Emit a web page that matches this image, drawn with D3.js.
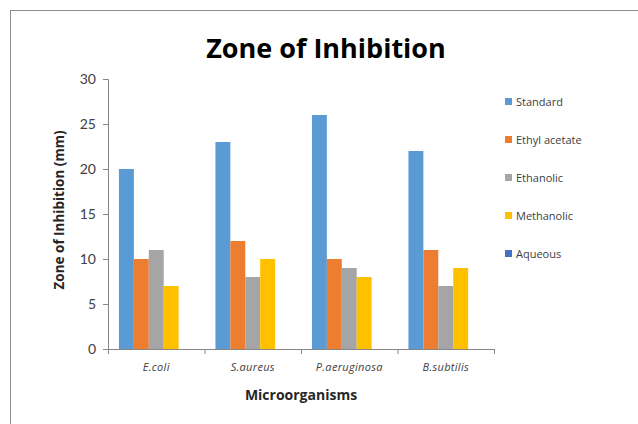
<!DOCTYPE html>
<html><head><meta charset="utf-8">
<script src="https://cdn.jsdelivr.net/npm/d3@7"></script>
<style>body{margin:0;background:#fff}svg{display:block;font-family:"Open Sans",sans-serif}</style>
</head><body>
<svg id="c" width="638" height="424"></svg>
<script>
const categories = ["E.coli","S.aureus","P.aeruginosa","B.subtilis"];
const seriesNames = ["Standard","Ethyl acetate","Ethanolic","Methanolic","Aqueous"];
const standard = [20,23,26,22];
const ethylAcetate = [10,12,10,11];
const ethanolic = [11,8,9,7];
const methanolic = [7,10,8,9];
const aqueous = [0,0,0,0];
const yTicks = [0,5,10,15,20,25,30];
const colors = ["#5B9BD5","#ED7D31","#A5A5A5","#FFC000","#4472C4"];
const seriesValues = [standard, ethylAcetate, ethanolic, methanolic, aqueous];

const svg = d3.select("#c");
svg.append("rect").attr("x",10.5).attr("y",10.5).attr("width",640).attr("height",430)
  .attr("fill","#fff").attr("stroke","#8c8c8c").attr("stroke-width",1);

const pLeft=108, pRight=494, pTop=79, pBottom=349;
const x = d3.scaleBand().domain(categories).range([pLeft,pRight]).paddingInner(0).paddingOuter(0);
const x1 = d3.scaleBand().domain(seriesNames).range([0,x.bandwidth()]).paddingInner(0).paddingOuter(0.733);
const y = d3.scaleLinear().domain([0,30]).range([pBottom,pTop]);

// bars
seriesNames.forEach((s,si)=>{
  svg.append("g").selectAll("rect").data(categories).join("rect")
    .attr("x",c=>x(c)+x1(s)).attr("width",x1.bandwidth())
    .attr("y",(c,i)=>y(seriesValues[si][i])).attr("height",(c,i)=>y(0)-y(seriesValues[si][i]))
    .attr("fill",colors[si]);
});

const axisColor="#868686";
// y axis
const ya = svg.append("g").attr("transform",`translate(${pLeft},0)`)
  .call(d3.axisLeft(y).tickValues(yTicks).tickSize(5).tickPadding(7));
ya.select(".domain").attr("stroke",axisColor);
ya.selectAll(".tick line").attr("stroke",axisColor);
ya.selectAll("text").style("font-size","14px").style("font-family","Lato,sans-serif").attr("fill","#404040");

// x axis
const xa = svg.append("g").attr("transform",`translate(0,${pBottom})`)
  .call(d3.axisBottom(x).tickSize(0).tickPadding(14));
xa.select(".domain").attr("stroke",axisColor).attr("d",`M${pLeft},0.5H${pRight}`);
xa.selectAll("text").style("font-size","11px").style("font-style","italic")
  .style("font-family","'Open Sans',sans-serif").style("letter-spacing","0.3px").attr("fill","#404040");
const bounds = categories.map(c=>x(c)).concat([pRight]);
xa.selectAll(".bnd").data(bounds).join("line").attr("class","bnd")
  .attr("x1",d=>d+0.5).attr("x2",d=>d+0.5).attr("y1",0).attr("y2",5).attr("stroke",axisColor);

// titles
svg.append("text").attr("x",326).attr("y",58).attr("text-anchor","middle")
  .style("font-family","'Open Sans',sans-serif").style("font-size","27px").style("font-weight","bold")
  .attr("fill","#000").text("Zone of Inhibition");
svg.append("text").attr("transform",`translate(64,210) rotate(-90)`)
  .attr("text-anchor","middle").style("font-size","13.5px").style("font-weight","bold").attr("fill","#262626")
  .text("Zone of Inhibition (mm)");
svg.append("text").attr("x",301).attr("y",400).attr("text-anchor","middle")
  .style("font-size","14px").style("font-weight","bold").attr("fill","#262626").text("Microorganisms");

// legend
const lg = svg.append("g").selectAll("g").data(seriesNames).join("g")
  .attr("transform",(d,i)=>`translate(505,${98+i*38})`);
lg.append("rect").attr("width",7).attr("height",7).attr("fill",(d,i)=>colors[i]);
lg.append("text").attr("x",11).attr("y",7.5).style("font-size","11px").attr("fill","#404040").text(d=>d);
</script>
</body></html>
